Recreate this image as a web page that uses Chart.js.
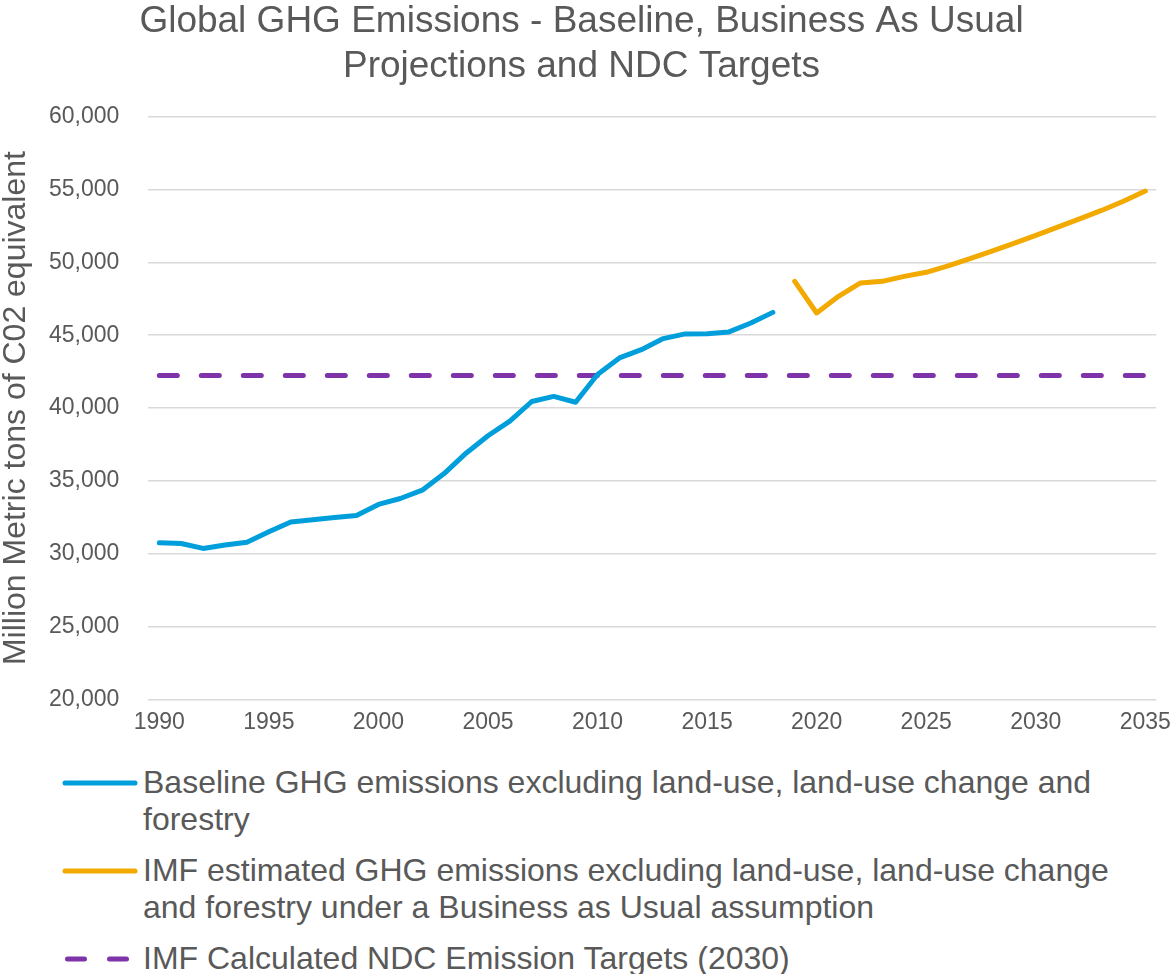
<!DOCTYPE html>
<html>
<head>
<meta charset="utf-8">
<title>Global GHG Emissions</title>
<script src="https://cdn.jsdelivr.net/npm/chart.js@4.4.1/dist/chart.umd.min.js"></script>
<style>
  body { margin: 0; background: #fff; font-family: "Liberation Sans", Arial, sans-serif; }
  #contenedor { position: relative; width: 1173px; height: 974px; }
  #grafico { position: absolute; left: 0; top: 0; }
  #leyenda { position: absolute; left: 0; top: 764px; color: #595959; font-size: 32px; line-height: 37px; }
  .item { display: flex; align-items: flex-start; margin-bottom: 14px; }
  .item svg { margin-left: 62px; flex: none; }
  .item .txt { width: 1000px; }
</style>
</head>
<body>
<div id="contenedor">
  <canvas id="grafico" width="1173" height="747"></canvas>
  <div id="leyenda"></div>
</div>
<script>
const years = ['1990','1991','1992','1993','1994','1995','1996','1997','1998','1999',
  '2000','2001','2002','2003','2004','2005','2006','2007','2008','2009',
  '2010','2011','2012','2013','2014','2015','2016','2017','2018','2019',
  '2020','2021','2022','2023','2024','2025','2026','2027','2028','2029',
  '2030','2031','2032','2033','2034','2035'];

// Baseline 1990-2018
const baselineYears = ['1990','1991','1992','1993','1994','1995','1996','1997','1998','1999',
  '2000','2001','2002','2003','2004','2005','2006','2007','2008','2009',
  '2010','2011','2012','2013','2014','2015','2016','2017','2018'];
const baseline = [30750, 30700, 30360, 30590, 30790, 31500, 32170, 32330, 32490, 32620,
  33380, 33790, 34360, 35500, 36900, 38100, 39100, 40450, 40800, 40400,
  42300, 43440, 44010, 44770, 45090, 45110, 45230, 45840, 46570];

// IMF business as usual 2019-2035
const bauYears = ['2019','2020','2021','2022','2023','2024','2025','2026','2027','2028',
  '2029','2030','2031','2032','2033','2034','2035'];
const bau = [48700, 46530, 47670, 48590, 48700, 49040, 49320, 49760, 50260, 50780,
  51310, 51860, 52420, 52990, 53570, 54200, 54900];

// NDC target (2030), drawn across the whole range
const ndcYears = ['1990', '2035'];
const ndc = [42230, 42230];

const yTicks = [20000, 25000, 30000, 35000, 40000, 45000, 50000, 55000, 60000];

const gris = '#595959';
const fuente = '"Liberation Sans", Arial, sans-serif';

const pares = (xs, ys) => xs.map((x, i) => ({ x: x, y: ys[i] }));

const ctx = document.getElementById('grafico').getContext('2d');

const grafico = new Chart(ctx, {
  type: 'line',
  data: {
    labels: years,
    datasets: [
      {
        label: 'Baseline GHG emissions excluding land-use, land-use change and forestry',
        data: pares(baselineYears, baseline),
        borderColor: '#009FDB',
        borderWidth: 5,
        borderCapStyle: 'round',
        borderJoinStyle: 'round',
        pointRadius: 0,
        tension: 0
      },
      {
        label: 'IMF estimated GHG emissions excluding land-use, land-use change and forestry under a Business as Usual assumption',
        data: pares(bauYears, bau),
        borderColor: '#F2A900',
        borderWidth: 5,
        borderCapStyle: 'round',
        borderJoinStyle: 'round',
        pointRadius: 0,
        tension: 0
      },
      {
        label: 'IMF Calculated NDC Emission Targets (2030)',
        data: pares(ndcYears, ndc),
        borderColor: '#7E33A8',
        borderWidth: 5,
        borderDash: [18, 24],
        borderCapStyle: 'round',
        pointRadius: 0,
        tension: 0
      }
    ]
  },
  options: {
    responsive: false,
    animation: false,
    layout: { padding: { top: 0, right: 10, bottom: 0, left: 0 } },
    plugins: {
      legend: { display: false },
      tooltip: { enabled: false },
      title: {
        display: true,
        text: ['Global GHG Emissions - Baseline, Business As Usual', 'Projections and NDC Targets'],
        color: gris,
        font: { family: fuente, size: 37, weight: 'normal', lineHeight: 1.2 },
        padding: { top: 0, bottom: 28 }
      }
    },
    scales: {
      x: {
        type: 'category',
        offset: true,
        grid: { display: false, drawTicks: false },
        border: { display: false },
        ticks: {
          autoSkip: false,
          maxRotation: 0,
          color: gris,
          padding: 2,
          font: { family: fuente, size: 23, lineHeight: 1.9 },
          callback: function (val, i) {
            const y = this.getLabelForValue(val);
            return Number(y) % 5 === 0 ? y : '';
          }
        }
      },
      y: {
        min: 20000,
        max: 60000,
        afterBuildTicks: axis => { axis.ticks = yTicks.map(v => ({ value: v })); },
        grid: { color: '#D9D9D9', lineWidth: 1.5, drawTicks: false },
        border: { display: false },
        ticks: {
          color: gris,
          padding: 29,
          font: { family: fuente, size: 23 },
          callback: v => v.toLocaleString('en-US')
        },
        title: {
          display: true,
          text: 'Million Metric tons of C02 equivalent',
          color: gris,
          font: { family: fuente, size: 32, lineHeight: 1 },
          padding: { top: 0, bottom: -12 }
        }
      }
    }
  }
});

// Leyenda en HTML (las etiquetas largas se cortan en varias lineas)
const leyenda = document.getElementById('leyenda');
grafico.data.datasets.forEach(ds => {
  const item = document.createElement('div');
  item.className = 'item';
  const dash = ds.borderDash ? ' stroke-dasharray="17 25"' : '';
  const x1 = ds.borderDash ? 5.5 : 3;
  item.innerHTML = `
    <svg width="81" height="37"><line x1="${x1}" y1="19" x2="73" y2="19" stroke="${ds.borderColor}"
      stroke-width="5" stroke-linecap="round"${dash}/></svg>
    <div class="txt">${ds.label}</div>`;
  leyenda.appendChild(item);
});
</script>
</body>
</html>
